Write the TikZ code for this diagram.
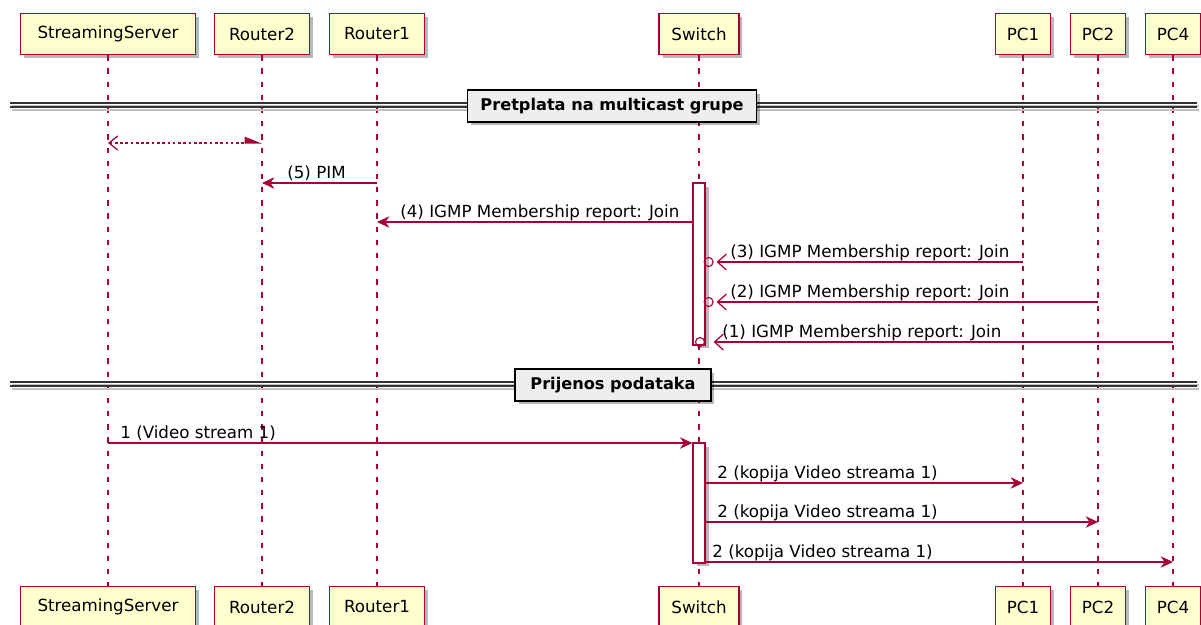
\documentclass[tikz,border=0pt]{standalone}
\usepackage{fontspec}
\setmainfont{DejaVu Sans}
\usetikzlibrary{arrows.meta, positioning, calc, shadows}

\definecolor{umlred}{HTML}{A80036}
\definecolor{umlfill}{HTML}{FEFECE}
\definecolor{sepfill}{HTML}{EEEEEE}

\tikzset{
  sh/.style={drop shadow={shadow xshift=0.07cm, shadow yshift=-0.07cm, fill=black, opacity=0.28}},
  actor/.style={draw=umlred, fill=umlfill, line width=0.9pt, minimum height=0.82cm, inner sep=0pt,
    font=\fontsize{9.5}{11}\selectfont, sh},
  life/.style={umlred, line width=0.6pt, dash pattern=on 3pt off 4.5pt},
  act/.style={draw=umlred, fill=white, line width=0.7pt, minimum width=0.24cm, inner sep=0pt, sh},
  msg/.style={umlred, line width=0.65pt},
  msgarr/.style={msg, -{Stealth[length=7pt, width=6.5pt, inset=2.2pt]}},
  msgcirc/.style={msg, -{Straight Barb[length=5pt, width=9pt, line width=0.7pt]}},
  lbl/.style={anchor=base west, inner sep=0pt, font=\fontsize{9.5}{11}\selectfont},
  sepbox/.style={draw=black, fill=sepfill, line width=1pt, minimum height=0.64cm, inner sep=0pt,
    font=\fontsize{9.2}{11}\selectfont\bfseries, sh},
  sepline/.style={black!80, line width=0.8pt}
}

\begin{document}
\begin{tikzpicture}[x=0.02cm, y=-0.02cm]
    \useasboundingbox (0,0) rectangle (1201,625);

    % Sudionici
    \node[actor, minimum width=3.5cm] (ss) at (108,34) {StreamingServer};
    \node[actor, minimum width=1.9cm] (rtr2) at (262,34) {Router2};
    \node[actor, minimum width=1.9cm] (rtr1) at (377,34) {Router1};
    \node[actor, minimum width=1.6cm] (sw) at (699,34) {Switch};
    \node[actor, minimum width=1.1cm] (pc1) at (1023,34) {PC1};
    \node[actor, minimum width=1.1cm] (pc2) at (1098,34) {PC2};
    \node[actor, minimum width=1.1cm] (pc4) at (1173,34) {PC4};

    \node[actor, minimum width=3.5cm] (ss-b) at (108,607) {StreamingServer};
    \node[actor, minimum width=1.9cm] (rtr2-b) at (262,607) {Router2};
    \node[actor, minimum width=1.9cm] (rtr1-b) at (377,607) {Router1};
    \node[actor, minimum width=1.6cm] (sw-b) at (699,607) {Switch};
    \node[actor, minimum width=1.1cm] (pc1-b) at (1023,607) {PC1};
    \node[actor, minimum width=1.1cm] (pc2-b) at (1098,607) {PC2};
    \node[actor, minimum width=1.1cm] (pc4-b) at (1173,607) {PC4};

    % Zivotne linije
    \foreach \p in {ss, rtr2, rtr1, sw, pc1, pc2, pc4} {
        \draw[life] (\p.south) -- (\p-b.north);
    }

    % Razine poruka
    \coordinate (m0) at (0,143);
    \coordinate (m5) at (0,183);
    \coordinate (m4) at (0,222);
    \coordinate (m3) at (0,262);
    \coordinate (m2) at (0,302);
    \coordinate (m1) at (0,342);
    \coordinate (v1) at (0,443);
    \coordinate (k1) at (0,483);
    \coordinate (k2) at (0,522);
    \coordinate (k3) at (0,562);

    % Aktivacije
    \node[act, minimum height=3.24cm] (act1) at (699,264) {};
    \node[act, minimum height=2.4cm] (act2) at (699,503) {};

    % Razdjelnici
    \draw[black!25, line width=1pt] (12,106) -- (1199,106) (12,110) -- (1199,110);
    \draw[sepline] (10,103) -- (1197,103) (10,107) -- (1197,107);
    \node[sepbox, minimum width=5.78cm] (sep1) at (612,106) {Pretplata na multicast grupe};
    \draw[black!25, line width=1pt] (12,385) -- (1199,385) (12,389) -- (1199,389);
    \draw[sepline] (10,382) -- (1197,382) (10,386) -- (1197,386);
    \node[sepbox, minimum width=3.92cm] (sep2) at (613,385) {Prijenos podataka};

    % Pretplata
    \draw[msg, dash pattern=on 1.5pt off 1.5pt, {Straight Barb[length=5pt, width=8pt, line width=0.7pt]}-{Triangle[left, length=9pt, width=7pt]}]
        (ss |- m0) -- (rtr2 |- m0);

    \draw[msgarr] (rtr1 |- m5) -- (rtr2 |- m5);
    \node[lbl] (l5) at (287,178) {(5) PIM};

    \draw[msgarr] (act1.west |- m4) -- (rtr1 |- m4);
    \node[lbl] (l4) at (400,217) {(4) IGMP Membership report: Join};

    \draw[msgcirc] (pc1 |- m3) -- ($(act1.east |- m3)+(11,0)$);
    \draw[msg] ($(act1.east |- m3)+(3,0)$) circle[radius=4.5];
    \node[lbl] (l3) at (730,257) {(3) IGMP Membership report: Join};

    \draw[msgcirc] (pc2 |- m2) -- ($(act1.east |- m2)+(11,0)$);
    \draw[msg] ($(act1.east |- m2)+(3,0)$) circle[radius=4.5];
    \node[lbl] (l2) at (730,297) {(2) IGMP Membership report: Join};

    \draw[msgcirc] (pc4 |- m1) -- ($(act1.east |- m1)+(8,0)$);
    \draw[msg] ($(sw |- m1)+(1,0)$) circle[radius=4.5];
    \node[lbl] (l1) at (722,337) {(1) IGMP Membership report: Join};

    % Prijenos
    \draw[msgarr] (ss |- v1) -- (act2.west |- v1);
    \node[lbl] (lv) at (120,438) {1 (Video stream 1)};

    \draw[msgarr] (act2.east |- k1) -- (pc1 |- k1);
    \node[lbl] (lk1) at (717,478) {2 (kopija Video streama 1)};
    \draw[msgarr] (act2.east |- k2) -- (pc2 |- k2);
    \node[lbl] (lk2) at (717,517) {2 (kopija Video streama 1)};
    \draw[msgarr] (act2.east |- k3) -- (pc4 |- k3);
    \node[lbl] (lk3) at (712,557) {2 (kopija Video streama 1)};
\end{tikzpicture}
\end{document}
